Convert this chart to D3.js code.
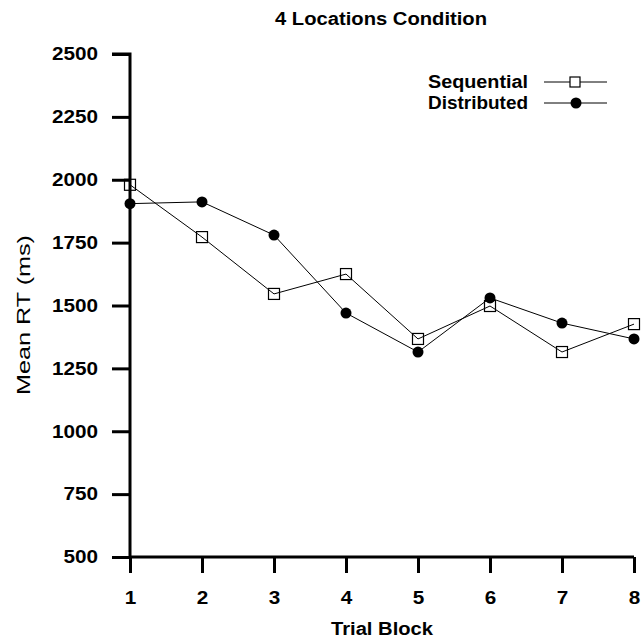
<!DOCTYPE html>
<html><head><meta charset="utf-8">
<script src="https://cdn.jsdelivr.net/npm/d3@7"></script>
<style>body{margin:0;background:#fff}svg{display:block}text{font-family:"Liberation Sans",Arial,sans-serif;fill:#000}</style>
</head><body><svg id="c" width="642" height="641"></svg>
<script>
const blocks = [1,2,3,4,5,6,7,8];
const sequential = [1980,1772,1546,1625,1367,1498,1315,1426];
const distributed = [1905,1912,1780,1470,1315,1530,1430,1367];
const yTicks = [500,750,1000,1250,1500,1750,2000,2250,2500];
const seriesNames = ["Sequential","Distributed"];

const svg = d3.select("#c");
const x = d3.scaleLinear().domain([1,8]).range([130,634]);
const y = d3.scaleLinear().domain([500,2500]).range([557,54]);

function stretch(sel, f){
  sel.each(function(){
    const L = this.getComputedTextLength();
    d3.select(this).attr("textLength", L*f).attr("lengthAdjust","spacingAndGlyphs");
  });
}
function fitTo(sel, w){
  sel.attr("textLength", w).attr("lengthAdjust","spacingAndGlyphs");
}

// title
const title = svg.append("text").attr("x",381).attr("y",25).attr("text-anchor","middle")
  .style("font-size","18px").style("font-weight","bold").text("4 Locations Condition");
fitTo(title, 212);

// y axis
const ya = svg.append("g").attr("transform","translate(130,0)")
  .call(d3.axisLeft(y).tickValues(yTicks).tickSize(18).tickPadding(14).tickFormat(d3.format("d")));
ya.select(".domain").attr("stroke","#000").attr("stroke-width",3).attr("d",`M-18,${y(2500)}H0V${y(500)}`);
ya.selectAll(".tick line").attr("stroke","#000").attr("stroke-width",3);
ya.selectAll("text").style("font-size","18px").style("font-weight","bold");
stretch(ya.selectAll("text"), 1.15);

// x axis
const xa = svg.append("g").attr("transform","translate(0,557)")
  .call(d3.axisBottom(x).tickValues(blocks).tickSize(16).tickPadding(18).tickFormat(d3.format("d")));
xa.select(".domain").attr("stroke","#000").attr("stroke-width",3).attr("d",`M${x(1)},0H${x(8)}`);
xa.selectAll(".tick line").attr("stroke","#000").attr("stroke-width",3);
xa.selectAll("text").style("font-size","18px").style("font-weight","bold");
stretch(xa.selectAll("text"), 1.15);

// axis labels
const xl = svg.append("text").attr("x",382).attr("y",635).attr("text-anchor","middle")
  .style("font-size","18px").style("font-weight","bold").text("Trial Block");
fitTo(xl, 102);
const yl = svg.append("text").attr("transform",`translate(30,315) rotate(-90)`)
  .attr("text-anchor","middle").style("font-size","18px").text("Mean RT (ms)");
fitTo(yl, 160);

const line = d3.line().x((d,i)=>x(blocks[i])).y(d=>y(d));
svg.append("path").attr("d",line(sequential)).attr("fill","none").attr("stroke","#000").attr("stroke-width",1);
svg.append("path").attr("d",line(distributed)).attr("fill","none").attr("stroke","#000").attr("stroke-width",1);

svg.selectAll(".dist").data(distributed).join("circle").attr("class","dist")
  .attr("cx",(d,i)=>x(blocks[i])).attr("cy",d=>y(d)).attr("r",5.5).attr("fill","#000");
svg.selectAll(".seq").data(sequential).join("rect").attr("class","seq")
  .attr("x",(d,i)=>x(blocks[i])-5.5).attr("y",d=>y(d)-5.5).attr("width",11).attr("height",11)
  .attr("fill","none").attr("stroke","#000").attr("stroke-width",1.2);

// legend
const leg = svg.append("g");
const rows = [{name:seriesNames[0],y:82,type:"sq"},{name:seriesNames[1],y:103,type:"ci"}];
rows.forEach(r=>{
  const t = leg.append("text").attr("x",528).attr("y",r.y+6).attr("text-anchor","end")
    .style("font-size","18px").style("font-weight","bold").text(r.name);
  fitTo(t, 100);
  leg.append("line").attr("x1",544).attr("x2",607).attr("y1",r.y).attr("y2",r.y).attr("stroke","#000").attr("stroke-width",1);
  if(r.type==="sq") leg.append("rect").attr("x",570).attr("y",r.y-5).attr("width",10).attr("height",10).attr("fill","#fff").attr("stroke","#000").attr("stroke-width",1.2);
  else leg.append("circle").attr("cx",576).attr("cy",r.y).attr("r",5.5).attr("fill","#000");
});
</script></body></html>
